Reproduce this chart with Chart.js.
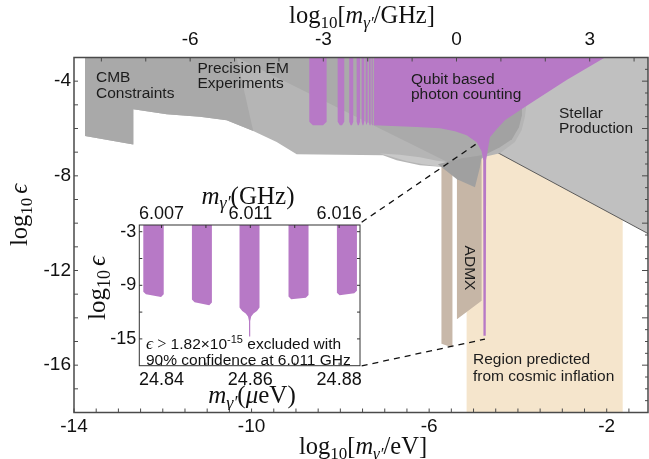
<!DOCTYPE html>
<html>
<head>
<meta charset="utf-8">
<script src="https://cdn.jsdelivr.net/npm/chart.js@4.4.1/dist/chart.umd.min.js"></script>
<style>
  html, body { margin: 0; padding: 0; background: #fff; }
  #wrap { position: relative; width: 649px; height: 459px; overflow: hidden; }
  #main { position: absolute; left: 0; top: 0; }
  #inset { position: absolute; left: 80px; top: 185px; }
</style>
</head>
<body>
<div id="wrap">
  <canvas id="main" width="649" height="459"></canvas>
  <canvas id="inset" width="300" height="225"></canvas>
</div>
<script>
// ---- main plot: axes ----
const xTicksEV = [-14, -10, -6, -2];
const xTicksGHz = [-6, -3, 0, 3];
const yTicks = [-4, -8, -12, -16];
const GHZ_SHIFT = 5.3835; // log10(m/GHz) = log10(m/eV) + 5.3835

// ---- main plot: regions, points are [log10 m/eV, log10 eps] ----
const inflationX = [-5.156, -1.64];
const inflationY = [-18, -6.7];
const admxLeft = [[-5.723, -7.3], [-5.475, -7.3], [-5.475, -15.25], [-5.723, -15.10]];
const admxRight = [[-5.374, -7.3], [-4.818, -7.3], [-4.818, -13.28], [-5.374, -14.06]];
const stellar = [[-4.766, -6.708], [-1.07, -10.44], [-1.07, -3], [-3.505, -3]];
const stellarEdge = [[-4.766, -6.708], [-1.07, -10.44]];
const precisionEM = [
  [-13.752, -3], [-3.775, -3], [-3.775, -4.377], [-3.804, -4.928], [-3.842, -5.508],
  [-3.917, -6.072], [-4.068, -6.568], [-4.405, -7.047], [-4.698, -7.174], [-4.811, -7.258],
  [-4.968, -7.682], [-5.374, -7.640], [-5.757, -7.619], [-6.207, -7.555], [-6.732, -7.343],
  [-7.041, -7.131], [-8.984, -7.089], [-9.435, -6.568], [-9.962, -6.102], [-10.561, -5.648],
  [-11.162, -5.500], [-11.912, -5.394], [-12.664, -5.182], [-12.664, -6.678], [-13.752, -6.314]
];
const cmb = [
  [-13.752, -3], [-10.336, -3], [-9.962, -6.102], [-10.561, -5.648], [-11.162, -5.500],
  [-11.912, -5.394], [-12.664, -5.182], [-12.664, -6.678], [-13.752, -6.314]
];
const emUpper = [[-10.336, -3], [-4.405, -3], [-4.405, -5.987], [-4.698, -6.919], [-4.968, -7.682], [-5.351, -7.640]];
const emInner = [[-4.766, -7.131], [-4.405, -6.792], [-4.135, -6.453], [-3.977, -5.945], [-3.910, -5.436], [-3.910, -4.801], [-4.518, -4.801]];
const emSliver = [
  [-7.108, -7.059], [-6.658, -7.110], [-6.207, -7.216], [-5.824, -7.364], [-5.419, -7.470],
  [-5.802, -7.597], [-6.140, -7.513], [-6.500, -7.386], [-6.883, -7.174]
];
const emWedge = [[-5.802, -7.513], [-5.261, -7.258], [-4.811, -7.131], [-4.856, -7.640], [-4.968, -8.487], [-5.374, -8.148]];
const qubitBarL = [-8.700, -8.061, -7.800, -7.633, -7.520, -7.430, -7.356, -7.295];
const qubitBarR = [-8.309, -7.912, -7.709, -7.559, -7.462, -7.385, -7.318, -7.266];
const qubitBarBottom = -5.86;
const qubitMain = [
  [-7.243, -3], [-7.243, -5.860], [-6.282, -5.932], [-5.757, -5.987], [-5.419, -6.114],
  [-5.155, -6.284], [-4.930, -6.581], [-4.818, -6.962], [-4.782, -7.343], [-4.777, -14.758],
  [-4.725, -14.758], [-4.716, -7.343], [-4.669, -6.792], [-4.631, -6.369], [-4.480, -6.030],
  [-4.293, -5.648], [-3.955, -5.225], [-3.662, -4.873], [-2.903, -3.953], [-2.041, -3]
];
const zoomLineTop = [[-7.52, -9.96], [-4.93, -6.64]];
const zoomLineBottom = [[-7.52, -16.03], [-4.743, -14.90]];

// ---- inset: axes ----
const insetXTicks = [24.84, 24.86, 24.88];
const insetGHzLabels = ['6.007', '6.011', '6.016'];
const insetYTicks = [-3, -9, -15];

// ---- inset: scan windows, x in micro-eV ----
const insetBarL = [24.8359, 24.84685, 24.85757, 24.8686, 24.8795];
const insetBarR = [24.8405, 24.85135, 24.86207, 24.87311, 24.88401];
const insetBotL = [-10.01, -10.90, -11.48, -10.56, -10.12];
const insetBotR = [-10.31, -11.23, -11.48, -10.38, -9.90];
const dipX = [24.85818, 24.85896, 24.85948, 24.85970, 24.85972, 24.85996, 24.85998, 24.86020, 24.86072, 24.86150];
const dipY = [-11.89, -12.17, -12.50, -13.0, -14.74, -14.74, -13.0, -12.50, -12.17, -11.89];

const SANS = '"Liberation Sans", Arial, Helvetica, sans-serif';
const SERIF = '"Liberation Serif", "DejaVu Serif", "Times New Roman", serif';
const PURPLE = '#b779c6';

function poly(points, color) {
  return {
    data: points.map(([x, y]) => ({ x, y })),
    showLine: true, fill: 'shape', backgroundColor: color,
    borderColor: 'rgba(0,0,0,0)', borderWidth: 0, pointRadius: 0, tension: 0
  };
}
function line(points, color, width, dash) {
  return {
    data: points.map(([x, y]) => ({ x, y })),
    showLine: true, fill: false, borderColor: color, borderWidth: width,
    borderDash: dash || [], pointRadius: 0, tension: 0
  };
}
function barShape(x0, x1, top, b0, b1, dx, dy) {
  return [[x0, top], [x0, b0 + dy], [x0 + dx, b0], [x1 - dx, b1], [x1, b1 + dy], [x1, top]];
}
function stack(sets) {
  // first entry ends up at the bottom
  sets.forEach((d, i) => { d.order = sets.length - i; });
  return sets;
}

// rich text with subscripts
function drawParts(ctx, parts, x, y, align) {
  let w = 0;
  for (const p of parts) { ctx.font = p.font; w += ctx.measureText(p.t).width + (p.gap || 0); }
  let cx = align === 'center' ? x - w / 2 : x;
  ctx.textAlign = 'left';
  ctx.textBaseline = 'alphabetic';
  for (const p of parts) {
    ctx.font = p.font;
    ctx.fillText(p.t, cx, y + (p.dy || 0));
    cx += ctx.measureText(p.t).width + (p.gap || 0);
  }
}
const rm = (t, s) => ({ t, font: `${s}px ${SERIF}` });
const it = (t, s) => ({ t, font: `italic ${s}px ${SERIF}` });
const sub = (t, s, italic, gap) => ({ t, font: `${italic ? 'italic ' : ''}${Math.round(s * 0.7)}px ${SERIF}`, dy: s * 0.22, gap: gap || 0 });

function inwardTicks(ctx, scale, from, to, step, side, len) {
  const a = scale.chart.chartArea;
  ctx.beginPath();
  for (let v = from; v <= to + 1e-9; v += step) {
    const p = scale.getPixelForValue(v);
    const L = typeof len === 'function' ? len(v) : len;
    if (side === 'bottom') { ctx.moveTo(p, a.bottom); ctx.lineTo(p, a.bottom - L); }
    if (side === 'top') { ctx.moveTo(p, a.top); ctx.lineTo(p, a.top + L); }
    if (side === 'left') { ctx.moveTo(a.left, p); ctx.lineTo(a.left + L, p); }
    if (side === 'right') { ctx.moveTo(a.right, p); ctx.lineTo(a.right - L, p); }
  }
  ctx.stroke();
}

// ---------------- main chart ----------------
const mainSets = [
  poly([[inflationX[0], inflationY[0]], [inflationX[1], inflationY[0]], [inflationX[1], inflationY[1]], [inflationX[0], inflationY[1]]], '#f5e5cc'),
  poly(admxLeft, '#c8b8a9'),
  poly(admxRight, '#c6b6a6'),
  poly(stellar, '#c0c0c0'),
  line(stellarEdge, '#5a5a5a', 1),
  poly(precisionEM, '#b5b5b5'),
  poly(cmb, '#a9a9a9'),
  poly(emUpper, '#aaaaaa'),
  poly(emInner, '#a2a2a2'),
  poly(emSliver, '#c8c8c8'),
  poly(emWedge, '#a0a0a0'),
  ...qubitBarL.map((x0, i) => {
    const x1 = qubitBarR[i];
    const dx = Math.min(0.08, (x1 - x0) / 3);
    return poly(barShape(x0, x1, -3, qubitBarBottom, qubitBarBottom, dx, 0.15), PURPLE);
  }),
  poly(qubitMain, PURPLE),
  line(zoomLineTop, '#111', 1.3, [6, 5]),
  line(zoomLineBottom, '#111', 1.3, [6, 5])
];

const mainTickFont = { family: SANS, size: 19 };
const insetTickFont = { family: SANS, size: 18 };
const noGrid = { display: false, drawTicks: false };

const mainDecor = {
  id: 'mainDecor',
  afterDatasetsDraw(chart) {
    const { ctx, chartArea: a, scales } = chart;
    ctx.save();
    // region labels
    ctx.fillStyle = '#1c1c1c';
    ctx.font = `15.5px ${SANS}`;
    ctx.textAlign = 'left';
    ctx.textBaseline = 'middle';
    [['CMB', 96, 78], ['Constraints', 96, 93.5],
     ['Precision EM', 197.5, 69], ['Experiments', 197.5, 83.5],
     ['Qubit based', 411, 80], ['photon counting', 411, 95],
     ['Stellar', 559, 113.5], ['Production', 559, 129],
     ['Region predicted', 473, 360], ['from cosmic inflation', 473, 376.5]
    ].forEach(([t, x, y]) => ctx.fillText(t, x, y));
    ctx.save();
    ctx.translate(469.5, 268);
    ctx.rotate(Math.PI / 2);
    ctx.textAlign = 'center';
    ctx.fillText('ADMX', 0, 0);
    ctx.restore();

    // frame and inward ticks
    ctx.strokeStyle = '#4a4a4a';
    ctx.lineWidth = 1;
    inwardTicks(ctx, scales.x, -14, -1.5, 0.5, 'bottom', 4);
    inwardTicks(ctx, scales.x2, -8, 4, 1, 'top', 4);
    inwardTicks(ctx, scales.y, -17, -4, 1, 'left', 4);
    inwardTicks(ctx, scales.y, -17.5, -3.5, 0.5, 'right', v => (Math.abs(v % 2) < 1e-6 ? 6 : 3));
    ctx.lineWidth = 1.5;
    ctx.strokeRect(a.left, a.top, a.right - a.left, a.bottom - a.top);

    // axis titles
    ctx.fillStyle = '#111';
    const T = 24.5;
    drawParts(ctx, [rm('log', T), sub('10', T), rm('[', T), it('m', T), sub('γ′', T, true), rm('/eV]', T)], 363, 454, 'center');
    drawParts(ctx, [rm('log', T), sub('10', T), rm('[', T), it('m', T), sub('γ′', T, true), rm('/GHz]', T)], 362, 23, 'center');
    ctx.save();
    ctx.translate(27, 215);
    ctx.rotate(-Math.PI / 2);
    drawParts(ctx, [rm('log', T), sub('10', T, false, 4), it('ϵ', T)], 0, 0, 'center');
    ctx.restore();
    ctx.restore();
  }
};

new Chart(document.getElementById('main'), {
  type: 'scatter',
  data: { datasets: stack(mainSets) },
  options: {
    responsive: false, animation: false, events: [],
    layout: { padding: { left: 0, right: 1, top: 0, bottom: 0 } },
    plugins: { legend: { display: false }, tooltip: { enabled: false } },
    scales: {
      x: {
        type: 'linear', position: 'bottom', min: -14, max: -1.07,
        afterBuildTicks: s => { s.ticks = xTicksEV.map(v => ({ value: v })); },
        afterFit: s => { s.height = 46.5; },
        ticks: { font: mainTickFont, color: '#111', padding: 3, maxRotation: 0, autoSkip: false, callback: v => String(v) },
        grid: noGrid, border: { display: false }
      },
      x2: {
        type: 'linear', position: 'top', display: true, min: -14 + GHZ_SHIFT, max: -1.07 + GHZ_SHIFT,
        afterBuildTicks: s => { s.ticks = xTicksGHz.map(v => ({ value: v })); },
        afterFit: s => { s.height = 57.5; },
        ticks: { font: mainTickFont, color: '#111', padding: 6, maxRotation: 0, autoSkip: false, callback: v => String(v) },
        grid: noGrid, border: { display: false }
      },
      y: {
        type: 'linear', position: 'left', min: -18, max: -3,
        afterBuildTicks: s => { s.ticks = yTicks.map(v => ({ value: v })); },
        afterFit: s => { s.width = 74; },
        ticks: { font: mainTickFont, color: '#111', padding: 3, autoSkip: false, callback: v => String(v) },
        grid: noGrid, border: { display: false }
      }
    }
  },
  plugins: [mainDecor]
});

// ---------------- inset chart ----------------
const insetSets = insetBarL.map((x0, i) => {
  const x1 = insetBarR[i];
  if (i === 2) {
    const outline = [[x0, -2.25], [x0, insetBotL[i]]]
      .concat(dipX.map((x, k) => [x, dipY[k]]))
      .concat([[x1, insetBotR[i]], [x1, -2.25]]);
    return poly(outline, PURPLE);
  }
  return poly(barShape(x0, x1, -2.25, insetBotL[i], insetBotR[i], 0.0006, 0.3), PURPLE);
});

const insetDecor = {
  id: 'insetDecor',
  beforeDatasetsDraw(chart) {
    const { ctx, chartArea: a } = chart;
    ctx.save();
    ctx.fillStyle = '#fff';
    ctx.fillRect(a.left, a.top, a.right - a.left, a.bottom - a.top);
    ctx.restore();
  },
  afterDatasetsDraw(chart) {
    const { ctx, chartArea: a, scales } = chart;
    ctx.save();
    ctx.strokeStyle = '#333';
    ctx.lineWidth = 1;
    inwardTicks(ctx, scales.x, 24.84, 24.88, 0.01, 'bottom', 3);
    inwardTicks(ctx, scales.x, 24.84, 24.88, 0.01, 'top', 3);
    inwardTicks(ctx, scales.y, -15, -3, 3, 'left', 3);
    inwardTicks(ctx, scales.y, -15, -3, 3, 'right', 3);
    ctx.strokeRect(a.left, a.top, a.right - a.left, a.bottom - a.top);

    ctx.fillStyle = '#111';
    const T = 25;
    drawParts(ctx, [it('m', T), sub('γ′', T, true), rm('(GHz)', T)], 168, 18.5, 'center');
    drawParts(ctx, [it('m', T), sub('γ′', T, true), rm('(', T), it('μ', T), rm('eV)', T)], 172, 218, 'center');
    ctx.save();
    ctx.translate(24.5, 103);
    ctx.rotate(-Math.PI / 2);
    drawParts(ctx, [rm('log', T), sub('10', T, false, 4), it('ϵ', T)], 0, 0, 'center');
    ctx.restore();

    const S = 15.5;
    drawParts(ctx, [
      { t: 'ϵ', font: `italic ${S + 2}px ${SERIF}` },
      { t: ' > ', font: `${S + 1}px ${SERIF}` },
      { t: '1.82×10', font: `${S}px ${SANS}` },
      { t: '-15', font: `${Math.round(S * 0.68)}px ${SANS}`, dy: -S * 0.4 },
      { t: ' excluded with', font: `${S}px ${SANS}` }
    ], 66, 164, 'left');
    drawParts(ctx, [{ t: '90% confidence at 6.011 GHz', font: `${S}px ${SANS}` }], 66, 179.5, 'left');
    ctx.restore();
  }
};

new Chart(document.getElementById('inset'), {
  type: 'scatter',
  data: { datasets: stack(insetSets) },
  options: {
    responsive: false, animation: false, events: [],
    layout: { padding: { left: 0, right: 20, top: 0, bottom: 0 } },
    plugins: { legend: { display: false }, tooltip: { enabled: false } },
    scales: {
      x: {
        type: 'linear', position: 'bottom', min: 24.835, max: 24.8847,
        afterBuildTicks: s => { s.ticks = insetXTicks.map(v => ({ value: v })); },
        afterFit: s => { s.height = 44.3; },
        ticks: { font: insetTickFont, color: '#111', padding: 4, maxRotation: 0, autoSkip: false, callback: v => v.toFixed(2) },
        grid: noGrid, border: { display: false }
      },
      x2: {
        type: 'linear', position: 'top', display: true, min: 24.835, max: 24.8847,
        afterBuildTicks: s => { s.ticks = insetXTicks.map(v => ({ value: v })); },
        afterFit: s => { s.height = 40; },
        ticks: { font: insetTickFont, color: '#111', padding: 0, maxRotation: 0, autoSkip: false, callback: (v, i) => insetGHzLabels[i] },
        grid: noGrid, border: { display: false }
      },
      y: {
        type: 'linear', position: 'left', min: -18, max: -2.25,
        afterBuildTicks: s => { s.ticks = insetYTicks.map(v => ({ value: v })); },
        afterFit: s => { s.width = 59.3; },
        ticks: { font: insetTickFont, color: '#111', padding: 3, autoSkip: false, callback: v => String(v) },
        grid: noGrid, border: { display: false }
      }
    }
  },
  plugins: [insetDecor]
});
</script>
</body>
</html>
